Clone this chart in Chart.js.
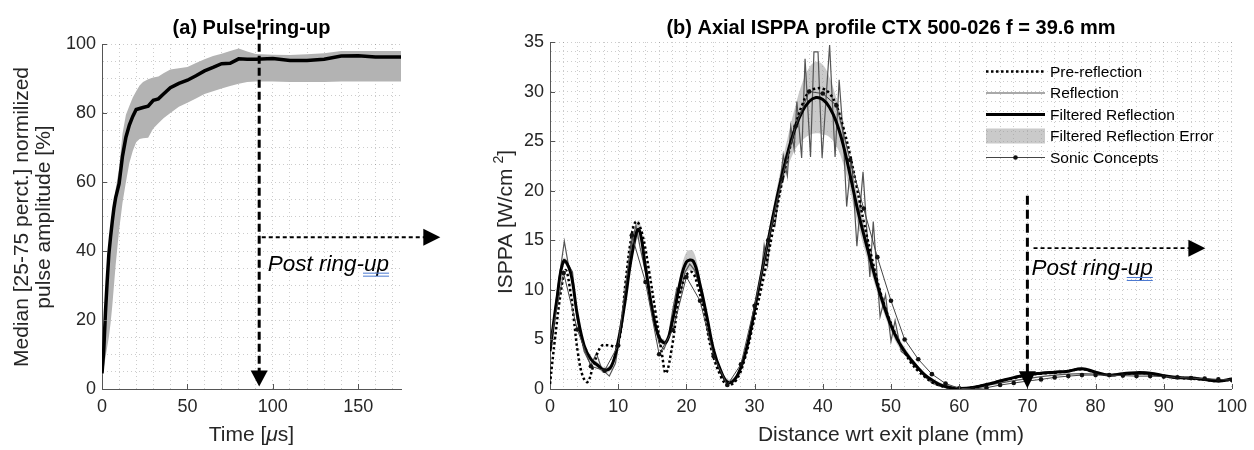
<!DOCTYPE html>
<html>
<head>
<meta charset="utf-8">
<script src="https://cdn.jsdelivr.net/npm/chart.js@4.4.0/dist/chart.umd.min.js"></script>
<style>
  body { margin: 0; background: #fff; }
  #wrap { position: relative; width: 1254px; height: 450px; }
  canvas { position: absolute; top: 0; }
</style>
</head>
<body>
<div id="wrap">
  <canvas id="pulse" width="480" height="450" style="left:0"></canvas>
  <canvas id="axial" width="774" height="450" style="left:480px"></canvas>
</div>
<script>
const FONT = "'Liberation Sans', Arial, sans-serif";
const INK = '#262626';

// (a) pulse ring-up, time in microseconds
const timeUs = [0,1,2,3,4,5,6,7,8,10,12,14,16,18,20,22,24,27,30,33,36,40,45,50,55,60,65,70,75,80,85,90,100,110,120,130,140,150,160,175];
const medianPct = [4.5,11,22,31,39,44,48.5,52.5,55.5,59.5,67.5,73,76.5,79,81,81.3,81.6,82,83.7,84.1,85.5,87.3,88.6,89.5,90.8,92.2,93.2,94.3,94.4,95.7,95.6,95.6,95.8,95.2,95.2,95.6,96.5,96.6,96.2,96.2];
const p75Pct = [5,13,24,33,40,45,50,54,58,64,74,79.5,82,84.5,86.3,88,89,89.8,90.3,90.6,91.5,92.6,93,93.3,94.5,95.6,96.5,97.2,98,98.7,97.8,97.1,96.9,96.8,97,97.3,98,98,98,98];
const p25Pct = [4,6,9,12,15,19,24,30,36,46,54,60,65.5,69,71.5,72.5,72.7,72.8,75.5,77,78.5,80,81.8,83,84.2,85.5,86.3,87.1,87.8,88.5,89,89.1,89.1,89,89,89,89.1,89.1,89.1,89.1];

// (b) axial ISPPA profile, distance in mm, ISPPA in W/cm2
const distMm = [0,1,2,3,4,5,6,7,8,9,10,11,12,13,14,15,16,17,18,19,20,21,22,23,24,25,26,27,28,29,30,31,32,33,34,35,36,37,38,39,40,41,42,43,44,45,46,47,48,49,50,51,52,53,54,55,56,57,58,59,60,62,64,66,68,70,72,74,76,78,80,82,84,86,88,90,92,94,96,98,100];
const filteredW = [3.8,9.0,12.9,11.8,7.5,4.4,3.0,2.4,1.9,2.3, 4.8,8.8,13.5,16.1,12.3,8.0,5.2,4.7,7.0,10.5, 12.8,12.9,10.5,7.3,3.9,1.9,0.7,0.9,2.2,4.6, 8.0,11.6,15.0,18.4,21.5,24.2,26.4,28.0,29.0,29.4, 29.2,28.4,26.9,24.6,21.6,18.4,15.6,13.0,10.5,8.3, 6.4,4.9,3.8,2.9,2.1,1.4,0.9,0.5,0.25,0.1, 0.05, 0.15,0.45,0.8,1.15,1.45,1.6,1.7,1.8,2.05,1.7, 1.4,1.55,1.65,1.6,1.35,1.15,1.1,0.95,0.8,1.0];
const errHighW = [4.1,9.3,13.2,12.1,7.8,4.7,3.3,2.7,2.2,2.6, 5.2,9.3,14.2,17.0,12.9,8.4,5.5,5.0,7.4,11.2, 13.8,13.9,11.2,7.8,4.3,2.2,1.0,1.2,2.5,5.0, 8.5,12.2,15.7,19.3,22.7,25.8,28.6,30.9,32.4,33.0, 32.7,31.4,29.3,26.5,23.2,19.8,16.8,14.0,11.3,9.0, 7.0,5.4,4.2,3.2,2.3,1.6,1.1,0.7,0.45,0.3, 0.2, 0.3,0.6,0.95,1.3,1.6,1.75,1.85,1.95,2.2,1.85, 1.55,1.7,1.8,1.75,1.5,1.3,1.25,1.1,0.95,1.15];
const errLowW = [3.5,8.7,12.6,11.5,7.2,4.1,2.7,2.1,1.6,2.0, 4.4,8.3,12.8,15.2,11.7,7.6,4.9,4.4,6.6,9.8, 11.8,11.9,9.8,6.8,3.5,1.6,0.4,0.6,1.9,4.2, 7.5,11.0,14.3,17.5,20.3,22.6,24.2,25.1,25.6,25.8, 25.7,25.4,24.5,22.7,20.0,17.0,14.4,12.0,9.7,7.6, 5.8,4.4,3.4,2.6,1.9,1.2,0.7,0.3,0.05,0, 0, 0,0.3,0.65,1.0,1.3,1.45,1.55,1.65,1.9,1.55, 1.25,1.4,1.5,1.45,1.2,1.0,0.95,0.8,0.65,0.85];

const preDistMm = [0,0.7,1.7,2.3,3.0,3.5,4.1,4.8,5.5,6.3, 7.5,8.7,9.7,10.4,11.1,12.1,12.7,13.5,14.5,15.5, 16.4,17.0,17.9,18.8,19.8,20.8,21.7,22.7,23.7,25.1, 26.1,27.3,28.5,29.9,31.4,32.6,34,35,36,37, 38,39,40,41,42,43,44,45,46,47, 48,49,50,51,52,53,54,55,56,57, 58,60,62,64,66,68,70,72,74,76, 78,80,82,84,86,88,90,92,94,96, 98,100];
const preW = [0.5,4.9,10.3,12.0,9.8,7.0,3.6,1.3,0.7,2.2, 4.3,4.4,4.3,6.0,10.9,16.0,16.9,15.7,12.0,7.6, 3.6,1.6,4.3,8.6,11.3,11.8,10.3,7.3,3.9,1.2, 0.4,0.9,2.9,6.9,11.5,15.7,20.8,23.8,26.6,28.7, 30.0,30.3,30.3,29.8,28.6,26.4,23.6,20.3,16.9,13.8, 10.9,8.5,6.6,5.0,3.7,2.6,1.8,1.2,0.7,0.4, 0.2,0.05,0.15,0.45,0.8,1.1,1.4,1.55,1.65,1.8, 2.0,1.65,1.4,1.5,1.6,1.55,1.3,1.15,1.05,0.95, 0.8,0.95];

const reflDistMm = [0,1.0,2.1,2.7,3.3,4.0,5.0,6.0,6.8,7.6, 8.7,9.6,10.3,11.2,12.0,12.6,13.2,14.0,15.0,16.0, 16.7,17.3,18.0,18.6,19.2,19.8,20.5,21.2,22.0,23.0, 24.0,25.0,26.0,27.0,28.0,29.0,30.0,30.8,31.4,31.9, 32.5,33.0,33.7,34.2,34.8,35.3,35.8,36.2,36.9,37.4, 38.2,38.7,39.3,39.9,41.0,41.8,42.4,43.0,43.5,44.2, 45.0,45.9,46.9,47.4,48.4,49.2,50.0,50.6,51.5,52.4, 53.3,54.0,55.0,56.0,57.0,58.0,60.0,62.0,64.0,66.0, 68.0,70.0,72.0,74.0,76.0,78.0,80.0,82.0,84.0,86.0, 88.0,90.0,92.0,94.0,96.0,98.0,100.0];
const reflW = [4.0,9.5,14.9,12.5,11.8,7.0,3.8,2.4,3.6,2.0, 1.3,2.6,5.5,10.0,14.8,16.5,14.3,11.8,7.6,4.6, 4.0,5.0,8.0,10.2,9.8,11.8,12.6,12.0,10.2,7.0, 3.8,1.7,0.5,0.8,2.2,4.5,8.4,10.5,14.5,12.5, 17.2,16.5,20.5,23.6,21.5,26.5,24.2,29.0,23.3,33.3, 23.4,34.0,34.0,23.3,34.7,23.4,31.2,25.5,18.4,23.4, 14.4,21.9,11.3,16.9,7.3,9.5,4.8,6.9,3.8,3.3, 2.4,2.0,1.2,0.6,0.3,0.15,0.05,0.1,0.35,0.6, 0.85,1.05,1.25,1.4,1.5,1.55,1.5,1.4,1.45,1.5, 1.45,1.3,1.15,1.1,1.0,0.9,0.9];

const sonicDistMm = [0,2,4,6,8,10,12,14,16,18,20,22,24,26,28,30,32,34,36,38,40,42,44,46,48,50,52,54,56,58,60,62,64,66,68,70,72,74,76,78,80,82,84,86,88,90,92,94,96,98,100];
const sonicW = [4.5,11.7,6.0,2.3,1.85,4.4,15.5,10.8,3.5,5.95,11.3,8.9,3.3,0.4,2.5,8.4,15.0,21.2,26.5,30.0,29.8,28.6,23.1,18.2,13.3,8.9,5.0,3.0,1.5,0.55,0.07,0,0.13,0.4,0.6,0.8,0.97,1.17,1.3,1.4,1.4,1.4,1.35,1.3,1.3,1.25,1.17,1.1,1.05,0.97,0.9];

const legendLabels = ['Pre-reflection', 'Reflection', 'Filtered Reflection', 'Filtered Reflection Error', 'Sonic Concepts'];

const aXTicks = [0, 50, 100, 150];
const aYTicks = [0, 20, 40, 60, 80, 100];
const bXTicks = [0, 10, 20, 30, 40, 50, 60, 70, 80, 90, 100];
const bYTicks = [0, 5, 10, 15, 20, 25, 30, 35];

const BAND_A = '#b3b3b3';
const BAND_B = 'rgba(150,150,150,0.5)';

function pts(xs, ys) {
  return xs.map((x, i) => ({ x: x, y: ys[i] }));
}

function axis(min, max, step, majors, isX, size) {
  return {
    type: 'linear', min: min, max: max,
    ticks: {
      stepSize: step, autoSkip: false, includeBounds: false, maxRotation: 0,
      padding: isX ? 7 : 6, color: INK, font: { family: FONT, size: 18 },
      callback: v => majors.includes(v) ? String(v) : ''
    },
    grid: { color: 'rgba(0,0,0,0.2)', lineWidth: 1, drawTicks: false },
    border: { display: true, color: '#555', width: 1, dash: [1, 3] },
    afterFit: s => { if (isX) s.height = size; else s.width = size; }
  };
}

function inwardTicks(ctx, x, y, xs, ys) {
  const a = x.chart.chartArea;
  ctx.strokeStyle = '#555';
  ctx.lineWidth = 1;
  ctx.setLineDash([]);
  ctx.beginPath();
  xs.forEach(v => { const p = Math.round(x.getPixelForValue(v)) + 0.5; ctx.moveTo(p, a.bottom); ctx.lineTo(p, a.bottom - 5); });
  ys.forEach(v => { const p = Math.round(y.getPixelForValue(v)) + 0.5; ctx.moveTo(a.left, p); ctx.lineTo(a.left + 5, p); });
  ctx.stroke();
}

function dashed(ctx, x1, y1, x2, y2, w, dash) {
  ctx.save();
  ctx.strokeStyle = '#000';
  ctx.lineWidth = w;
  ctx.setLineDash(dash);
  ctx.beginPath();
  ctx.moveTo(x1, y1);
  ctx.lineTo(x2, y2);
  ctx.stroke();
  ctx.restore();
}

function headDown(ctx, x, tipY, w, h) {
  ctx.fillStyle = '#000';
  ctx.beginPath();
  ctx.moveTo(x - w / 2, tipY - h);
  ctx.lineTo(x + w / 2, tipY - h);
  ctx.lineTo(x, tipY);
  ctx.closePath();
  ctx.fill();
}

function headRight(ctx, tipX, y, len, h) {
  ctx.fillStyle = '#000';
  ctx.beginPath();
  ctx.moveTo(tipX - len, y - h / 2);
  ctx.lineTo(tipX - len, y + h / 2);
  ctx.lineTo(tipX, y);
  ctx.closePath();
  ctx.fill();
}

function postText(ctx, x, y) {
  ctx.font = 'italic 22.5px ' + FONT;
  ctx.fillStyle = '#000';
  ctx.textAlign = 'left';
  ctx.textBaseline = 'alphabetic';
  ctx.fillText('Post ring-up', x, y);
  const w0 = ctx.measureText('Post ring-').width;
  const w1 = ctx.measureText('up').width;
  ctx.strokeStyle = '#4a78d0';
  ctx.lineWidth = 1;
  ctx.setLineDash([]);
  ctx.beginPath();
  [2.5, 5.5].forEach(dy => { ctx.moveTo(x + w0 - 1, y + dy); ctx.lineTo(x + w0 + w1, y + dy); });
  ctx.stroke();
}

function title(ctx, text, cx) {
  ctx.font = 'bold 20px ' + FONT;
  ctx.fillStyle = '#000';
  ctx.textAlign = 'center';
  ctx.textBaseline = 'alphabetic';
  ctx.fillText(text, cx, 34);
}

function xTitle(ctx, parts, cx) {
  ctx.fillStyle = INK;
  ctx.textAlign = 'left';
  ctx.textBaseline = 'alphabetic';
  let total = 0;
  parts.forEach(p => { ctx.font = p[1] + '21px ' + FONT; total += ctx.measureText(p[0]).width; });
  let xx = cx - total / 2;
  parts.forEach(p => { ctx.font = p[1] + '21px ' + FONT; ctx.fillText(p[0], xx, 441); xx += ctx.measureText(p[0]).width; });
}

const pulseDecor = {
  id: 'pulseDecor',
  afterDraw(chart) {
    const { ctx, chartArea: a, scales: { x, y } } = chart;
    ctx.save();
    inwardTicks(ctx, x, y, aXTicks, aYTicks);
    title(ctx, '(a) Pulse ring-up', (a.left + a.right) / 2);
    xTitle(ctx, [['Time [', ''], ['\u03bc', 'italic '], ['s]', '']], (a.left + a.right) / 2);

    ctx.save();
    ctx.translate(0, 217);
    ctx.rotate(-Math.PI / 2);
    ctx.font = '21px ' + FONT;
    ctx.fillStyle = INK;
    ctx.textAlign = 'center';
    ctx.textBaseline = 'alphabetic';
    ctx.fillText('Median [25-75 perct.] normilized', 0, 28);
    ctx.fillText('pulse amplitude [%]', 0, 50);
    ctx.restore();

    // ring-up marker
    const ax = x.getPixelForValue(92);
    const tip = y.getPixelForValue(0.7);
    dashed(ctx, ax, y.getPixelForValue(107), ax, tip - 14, 3, [8, 4]);
    headDown(ctx, ax, tip, 17, 16);
    const hy = y.getPixelForValue(44);
    const hTip = x.getPixelForValue(198);
    dashed(ctx, x.getPixelForValue(93.5), hy, hTip - 15, hy, 2, [4, 3]);
    headRight(ctx, hTip, hy, 17, 17);
    postText(ctx, x.getPixelForValue(97), y.getPixelForValue(34.3));
    ctx.restore();
  }
};

const axialDecor = {
  id: 'axialDecor',
  afterDraw(chart) {
    const { ctx, chartArea: a, scales: { x, y } } = chart;
    ctx.save();
    inwardTicks(ctx, x, y, bXTicks, bYTicks);
    title(ctx, '(b) Axial ISPPA profile CTX 500-026 f = 39.6 mm', (a.left + a.right) / 2);
    xTitle(ctx, [['Distance wrt exit plane (mm)', '']], (a.left + a.right) / 2);

    // y title with superscript
    ctx.save();
    ctx.translate(24, 222);
    ctx.rotate(-Math.PI / 2);
    ctx.fillStyle = INK;
    ctx.textAlign = 'left';
    ctx.textBaseline = 'alphabetic';
    ctx.font = '21px ' + FONT;
    const main = 'ISPPA [W/cm', close = ']';
    const wMain = ctx.measureText(main).width, wClose = ctx.measureText(close).width;
    ctx.font = '14px ' + FONT;
    const wSup = ctx.measureText('2').width;
    const start = -(wMain + 5 + wSup + wClose) / 2;
    ctx.font = '21px ' + FONT;
    ctx.fillText(main, start, 7.5);
    ctx.fillText(close, start + wMain + 5 + wSup, 7.5);
    ctx.font = '14px ' + FONT;
    ctx.fillText('2', start + wMain + 5, -1);
    ctx.restore();

    // legend
    const x0 = 506, x1 = 565, tx = 570;
    legendLabels.forEach((lab, i) => {
      const ry = 71.5 + i * 21.5;
      ctx.setLineDash([]);
      if (i === 3) {
        ctx.fillStyle = BAND_B;
        ctx.fillRect(x0, ry - 7.5, x1 - x0, 15);
      } else {
        ctx.beginPath();
        ctx.moveTo(x0, ry);
        ctx.lineTo(x1, ry);
        if (i === 0) { ctx.strokeStyle = '#000'; ctx.lineWidth = 2.5; ctx.setLineDash([2.5, 2.5]); }
        if (i === 1) { ctx.strokeStyle = '#555'; ctx.lineWidth = 1.2; }
        if (i === 2) { ctx.strokeStyle = '#000'; ctx.lineWidth = 3; }
        if (i === 4) { ctx.strokeStyle = '#444'; ctx.lineWidth = 1; }
        ctx.stroke();
        ctx.setLineDash([]);
        if (i === 4) {
          ctx.fillStyle = '#111';
          ctx.beginPath();
          ctx.arc((x0 + x1) / 2, ry, 2.3, 0, Math.PI * 2);
          ctx.fill();
        }
      }
      ctx.font = '15.5px ' + FONT;
      ctx.fillStyle = '#000';
      ctx.textAlign = 'left';
      ctx.textBaseline = 'middle';
      ctx.fillText(lab, tx, ry + 1);
    });

    // ring-up marker
    const ax = x.getPixelForValue(70);
    const tip = y.getPixelForValue(0.07);
    dashed(ctx, ax, y.getPixelForValue(19.5), ax, tip - 15, 3, [9, 5]);
    headDown(ctx, ax, tip, 17, 17);
    const hy = y.getPixelForValue(14.2);
    const hTip = x.getPixelForValue(96.1);
    dashed(ctx, x.getPixelForValue(70.9), hy, hTip - 16, hy, 1.8, [4, 3]);
    headRight(ctx, hTip, hy, 17, 17);
    postText(ctx, x.getPixelForValue(70.6), y.getPixelForValue(11.5));
    ctx.restore();
  }
};

Chart.defaults.font.family = FONT;

new Chart(document.getElementById('pulse'), {
  type: 'line',
  data: {
    datasets: [
      { label: 'Median', data: pts(timeUs, medianPct), borderColor: '#000', borderWidth: 3.5, pointRadius: 0, fill: false, tension: 0 },
      { label: '75th percentile', data: pts(timeUs, p75Pct), borderColor: 'transparent', borderWidth: 0, pointRadius: 0, fill: '+1', backgroundColor: BAND_A, tension: 0 },
      { label: '25th percentile', data: pts(timeUs, p25Pct), borderColor: 'transparent', borderWidth: 0, pointRadius: 0, fill: false, tension: 0 }
    ]
  },
  options: {
    responsive: false, animation: false, events: [],
    layout: { padding: { top: 44, right: 79, left: 0, bottom: 0 } },
    plugins: { legend: { display: false }, tooltip: { enabled: false } },
    scales: {
      x: axis(0, 175, 10, aXTicks, true, 61),
      y: axis(0, 100, 5, aYTicks, false, 102)
    }
  },
  plugins: [pulseDecor]
});

new Chart(document.getElementById('axial'), {
  type: 'line',
  data: {
    datasets: [
      { label: 'Sonic Concepts', data: pts(sonicDistMm, sonicW), borderColor: '#444', borderWidth: 1, pointRadius: 2.3, pointBackgroundColor: '#111', pointBorderWidth: 0, fill: false, tension: 0 },
      { label: 'Filtered Reflection', data: pts(distMm, filteredW), borderColor: '#000', borderWidth: 3, pointRadius: 0, fill: false, tension: 0.4 },
      { label: 'Pre-reflection', data: pts(preDistMm, preW), borderColor: '#000', borderWidth: 2.5, borderDash: [2.5, 2.5], pointRadius: 0, fill: false, tension: 0.4 },
      { label: 'Reflection', data: pts(reflDistMm, reflW), borderColor: '#555', borderWidth: 1.2, pointRadius: 0, fill: false, tension: 0 },
      { label: 'Filtered Reflection Error', data: pts(distMm, errHighW), borderColor: 'transparent', borderWidth: 0, pointRadius: 0, fill: '+1', backgroundColor: BAND_B, tension: 0.4 },
      { label: 'Filtered Reflection Error low', data: pts(distMm, errLowW), borderColor: 'transparent', borderWidth: 0, pointRadius: 0, fill: false, tension: 0.4 }
    ]
  },
  options: {
    responsive: false, animation: false, events: [],
    layout: { padding: { top: 42, right: 14, left: 0, bottom: 0 } },
    plugins: { legend: { display: false }, tooltip: { enabled: false } },
    scales: {
      x: axis(0, 100, 2, bXTicks, true, 61),
      y: axis(0, 35, 1, bYTicks, false, 70)
    }
  },
  plugins: [axialDecor]
});
</script>
</body>
</html>
